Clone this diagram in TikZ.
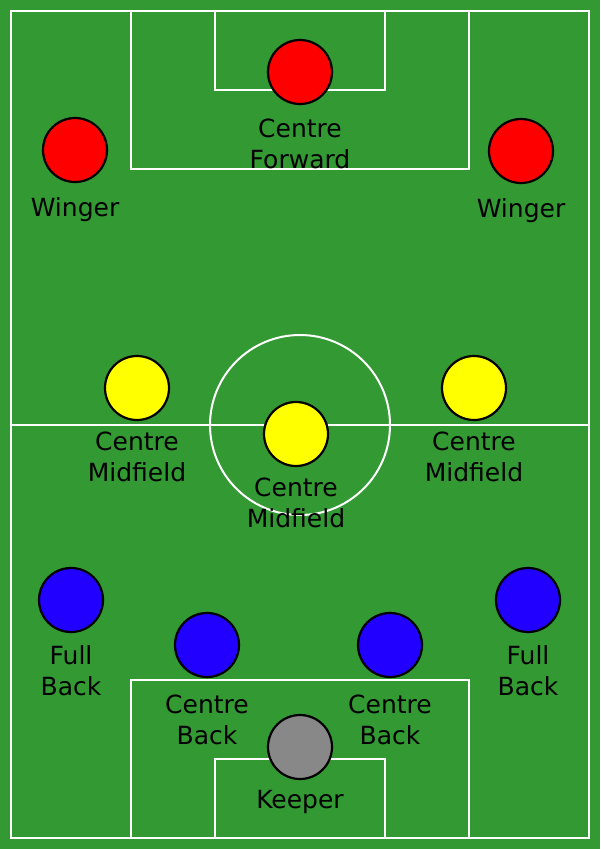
\documentclass[tikz,border=0pt]{standalone}
\usepackage{fontspec}
\setmainfont{DejaVu Sans}
\usetikzlibrary{positioning}

\definecolor{pitch}{HTML}{339933}
\definecolor{attack}{HTML}{FF0000}
\definecolor{midfield}{HTML}{FFFF00}
\definecolor{defence}{HTML}{2200FF}
\definecolor{goalie}{HTML}{888888}

\begin{document}
\begin{tikzpicture}
    [ x = 1pt, y = -1pt
    , line/.style =
      { draw = white, line width = 2pt }
    , player/.style =
      { draw, circle, line width = 2.2pt, minimum size = 64pt, inner sep = 0pt }
    , role/.style =
      { align = center, inner sep = 0pt, font = \fontsize{25}{31}\selectfont }
    ]
    \fill [pitch] (0,0) rectangle (600,849);
    \useasboundingbox (0,0) rectangle (600,849);

    % markings
    \draw [line] (11,11) rectangle (589,838);
    \draw [line] (131,11) rectangle (469,169);
    \draw [line] (215,11) rectangle (385,90);
    \draw [line] (131,838) rectangle (469,680);
    \draw [line] (215,838) rectangle (385,759);
    \draw [line] (11,425) -- (589,425);
    \draw [line] (300,425) circle [radius = 90];

    % players
    \node [player,fill=attack] (cf) at (300,72) {};
    \node [player,fill=attack] (lw) at (75,150) {};
    \node [player,fill=attack] (rw) at (521,151) {};
    \node [player,fill=midfield] (lcm) at (137,388) {};
    \node [player,fill=midfield] (rcm) at (474,388) {};
    \node [player,fill=midfield] (ccm) at (296,434) {};
    \node [player,fill=defence] (lfb) at (71,600) {};
    \node [player,fill=defence] (rfb) at (528,600) {};
    \node [player,fill=defence] (lcb) at (207,645) {};
    \node [player,fill=defence] (rcb) at (390,645) {};
    \node [player,fill=goalie] (gk) at (300,747) {};

    % labels
    \node [role] (cf label) [below=14pt of cf] {Centre\\Forward};
    \node [role] (lw label) [below=14pt of lw] {Winger};
    \node [role] (rw label) [below=14pt of rw] {Winger};
    \node [role] (lcm label) [below=11pt of lcm] {Centre\\Midfield};
    \node [role] (rcm label) [below=11pt of rcm] {Centre\\Midfield};
    \node [role] (ccm label) [below=11pt of ccm] {Centre\\Midfield};
    \node [role] (lfb label) [below=12.5pt of lfb] {Full\\Back};
    \node [role] (rfb label) [below=12.5pt of rfb] {Full\\Back};
    \node [role] (lcb label) [below=17pt of lcb] {Centre\\Back};
    \node [role] (rcb label) [below=17pt of rcb] {Centre\\Back};
    \node [role] (gk label) [below=10pt of gk] {Keeper};
  \end{tikzpicture}
\end{document}
